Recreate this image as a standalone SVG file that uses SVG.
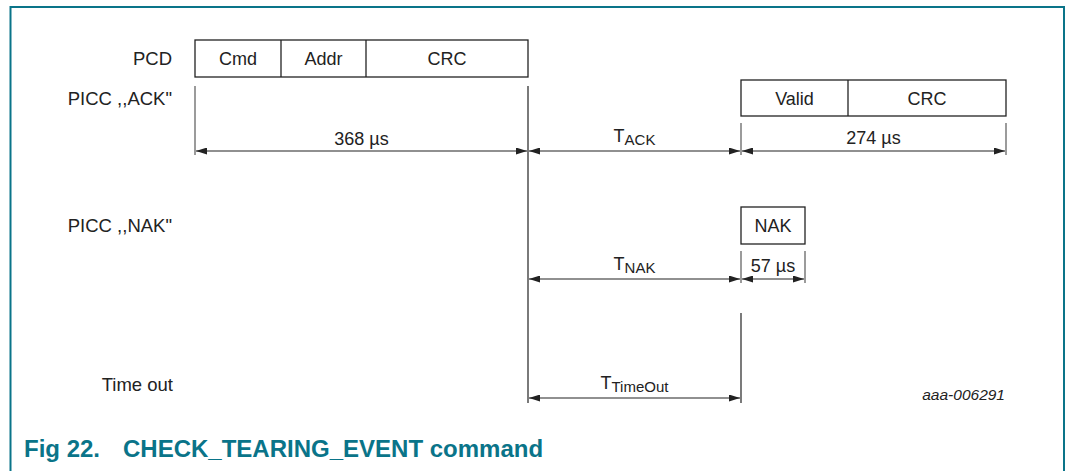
<svg xmlns="http://www.w3.org/2000/svg" width="1066" height="471" viewBox="0 0 1066 471">
<style>
text{font-family:"Liberation Sans",Arial,sans-serif;fill:#222}
.lbl{font-size:18px}
.lab{font-size:18.5px;text-anchor:end}
.ctr{text-anchor:middle}
.box{fill:#fff;stroke:#222;stroke-width:1.3}
.div{stroke:#222;stroke-width:1.3}
.ext{stroke:#7a7a7a;stroke-width:1.5}
.ext2{stroke:#222;stroke-width:1.2}
.dim{stroke:#222;stroke-width:1.1;marker-start:url(#ah);marker-end:url(#ah)}
.sub{font-size:15px}
.frame{fill:none;stroke:#0a7489;stroke-width:2}
.cap{font-size:24px;font-weight:bold;fill:#0a7489}
</style>
<defs>
<marker id="ah" viewBox="0 0 11 7" refX="11" refY="3.5" markerWidth="11" markerHeight="7" markerUnits="userSpaceOnUse" orient="auto-start-reverse">
<path d="M0,0 L11,3.5 L0,7 z" fill="#222"/>
</marker>
</defs>
<rect width="1066" height="471" fill="#fff"/>
<path class="frame" d="M10.5,471 V7 H1064 V471"/>

<g id="row-labels">
<text class="lab" x="172" y="65">PCD</text>
<text class="lab" x="172" y="105">PICC ,,ACK"</text>
<text class="lab" x="172" y="232">PICC ,,NAK"</text>
<text class="lab" x="173" y="391">Time out</text>
</g>

<g id="pcd-frame">
<rect class="box" x="195" y="40" width="333" height="37"/>
<line class="div" x1="281" y1="40" x2="281" y2="77"/>
<line class="div" x1="366" y1="40" x2="366" y2="77"/>
<text class="lbl ctr" x="238" y="65">Cmd</text>
<text class="lbl ctr" x="323.5" y="65">Addr</text>
<text class="lbl ctr" x="447" y="65">CRC</text>
</g>

<g id="ack-frame">
<rect class="box" x="741" y="80" width="265" height="36"/>
<line class="div" x1="848" y1="80" x2="848" y2="116"/>
<text class="lbl ctr" x="794.5" y="104.5">Valid</text>
<text class="lbl ctr" x="927" y="104.5">CRC</text>
</g>

<g id="nak-frame">
<rect class="box" x="741" y="207" width="64" height="37"/>
<text class="lbl ctr" x="773" y="232">NAK</text>
</g>

<g id="connectors">
<line class="ext" x1="195" y1="86" x2="195" y2="155"/>
<line class="ext" x1="528" y1="86" x2="528" y2="403" style="stroke-width:2"/>
<line class="ext" x1="741" y1="123" x2="741" y2="155"/>
<line class="ext" x1="1006" y1="123" x2="1006" y2="155"/>
<line class="ext" x1="741" y1="251" x2="741" y2="283"/>
<line class="ext" x1="805" y1="251" x2="805" y2="283"/>
<line class="ext2" x1="741" y1="313" x2="741" y2="403"/>

<line class="dim" x1="196" y1="151" x2="527" y2="151"/>
<line class="dim" x1="529" y1="151" x2="740" y2="151"/>
<line class="dim" x1="742" y1="151" x2="1005" y2="151"/>
<line class="dim" x1="529" y1="279" x2="740" y2="279"/>
<line class="dim" x1="742" y1="279" x2="804" y2="279"/>
<line class="dim" x1="529" y1="398" x2="740" y2="398"/>
</g>

<g id="dim-labels">
<text class="lbl ctr" x="361.5" y="145">368 µs</text>
<text class="lbl ctr" x="634.5" y="142">T<tspan class="sub" dy="2.5">ACK</tspan></text>
<text class="lbl ctr" x="873.5" y="144">274 µs</text>
<text class="lbl ctr" x="634.5" y="270">T<tspan class="sub" dy="2.5">NAK</tspan></text>
<text class="lbl ctr" x="773" y="272">57 µs</text>
<text class="lbl ctr" x="634.5" y="389">T<tspan class="sub" dy="2.5">TimeOut</tspan></text>
</g>

<text x="1005" y="400" style="font-size:15.5px;font-style:italic;text-anchor:end">aaa-006291</text>

<g id="caption">
<text class="cap" x="24" y="457">Fig 22.</text>
<text class="cap" x="123" y="457">CHECK_TEARING_EVENT command</text>
</g>
</svg>
